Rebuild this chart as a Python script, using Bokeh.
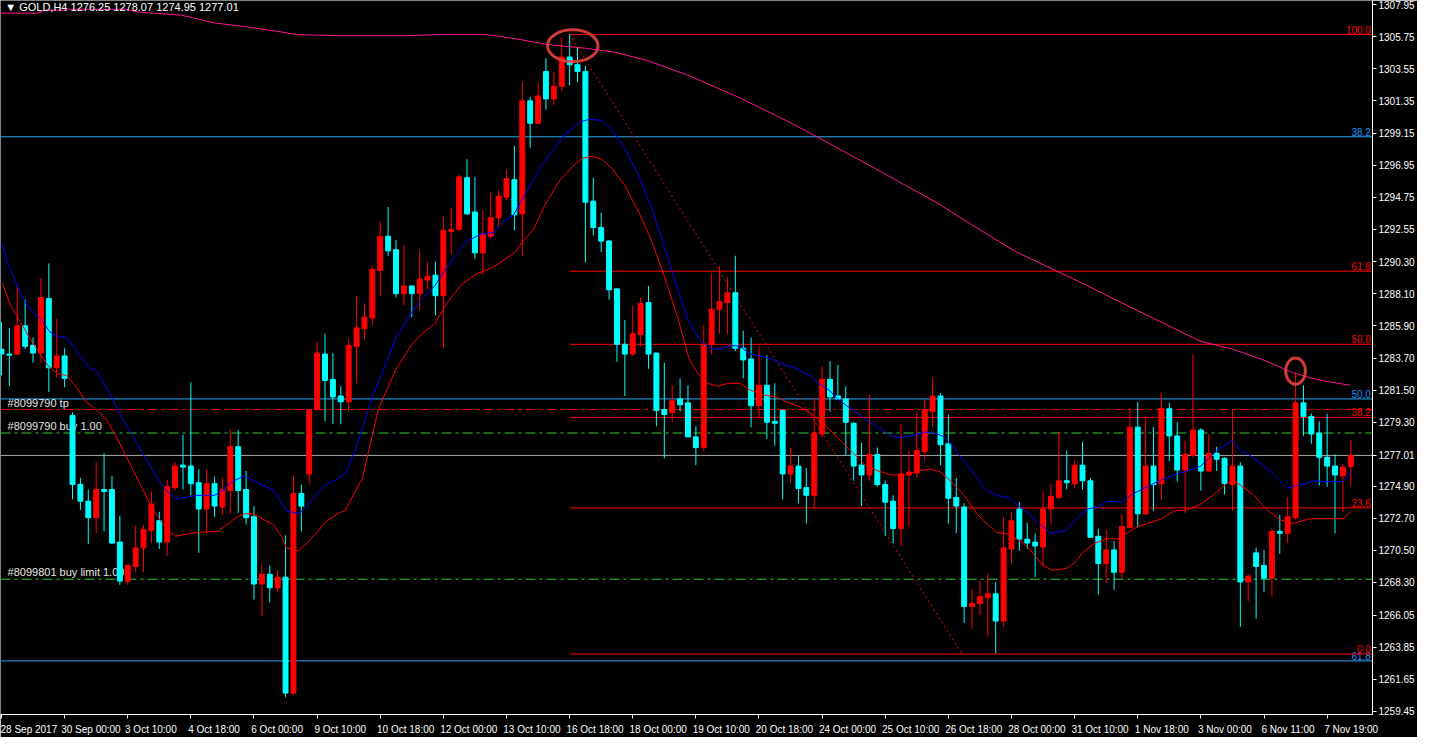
from bokeh.plotting import figure
from bokeh.models import (FixedTicker, NumeralTickFormatter, Label, ColumnDataSource, LinearAxis,
                          CustomLabelingPolicy)
from bokeh.embed import file_html
from bokeh.resources import INLINE
from bokeh.core.properties import value

# ---------------- data (GOLD, H4) ----------------
opens = [1284.30,1283.97,1283.97,1285.91,1284.57,1284.04,1287.78,1283.03,1283.84,1279.76,
         1275.01,1273.87,1272.73,1274.67,1274.67,1271.06,1268.38,1269.39,1270.66,1271.86,
         1272.53,1271.06,1274.80,1276.34,1276.28,1275.14,1273.33,1275.07,1273.47,1274.60,
         1277.61,1274.67,1272.80,1268.18,1268.85,1267.92,1268.65,1260.69,1274.40,1275.74,
         1280.16,1283.97,1282.23,1281.09,1280.69,1284.50,1285.71,1286.44,1289.72,1292.06,
         1291.13,1288.12,1288.65,1288.12,1289.05,1289.39,1287.98,1292.40,1292.53,1296.08,
         1293.73,1290.92,1292.06,1293.33,1294.74,1295.94,1293.60,1301.36,1299.82,1303.37,
         1301.49,1302.36,1304.37,1303.84,1303.37,1294.47,1292.66,1291.73,1288.45,1284.64,
         1283.97,1285.31,1287.51,1284.04,1280.16,1279.96,1280.89,1280.62,1278.28,1277.55,
         1284.64,1287.05,1287.51,1288.18,1284.37,1283.63,1280.42,1281.83,1279.35,1280.09,
         1275.74,1276.28,1274.80,1274.27,1278.48,1282.23,1281.09,1280.89,1279.22,1276.34,
         1275.67,1277.08,1275.01,1273.87,1271.99,1275.67,1275.81,1277.28,1280.02,1281.09,
         1277.81,1274.13,1273.47,1266.64,1266.84,1267.25,1267.51,1265.64,1270.59,1273.33,
         1271.26,1271.06,1270.72,1273.33,1274.13,1275.27,1275.07,1276.34,1275.27,1271.46,
         1269.59,1270.52,1268.99,1272.06,1278.95,1273.00,1276.28,1275.07,1280.22,1278.35,
         1276.01,1277.01,1278.75,1275.94,1277.15,1276.81,1275.01,1276.28,1268.32,1270.32,
         1269.45,1268.58,1271.79,1271.66,1272.73,1280.62,1279.69,1278.55,1276.88,1276.28,
         1275.61,1276.25]
highs = [1286.18,1285.77,1288.65,1287.71,1285.11,1289.19,1290.19,1286.38,1284.37,1279.96,
         1275.47,1274.67,1276.54,1277.15,1275.61,1272.87,1269.52,1272.20,1272.26,1274.54,
         1273.13,1275.34,1276.54,1278.42,1282.03,1276.08,1276.08,1275.54,1275.47,1278.82,
         1278.75,1275.94,1273.53,1269.52,1269.45,1269.12,1271.53,1275.61,1275.01,1280.20,
         1284.77,1285.37,1284.04,1281.76,1285.04,1287.98,1287.45,1289.99,1293.07,1294.07,
         1291.80,1291.46,1288.65,1291.13,1290.32,1290.32,1293.40,1294.00,1296.28,1297.35,
         1296.14,1293.80,1295.07,1295.21,1296.61,1298.28,1302.70,1301.63,1302.56,1304.30,
         1303.37,1305.71,1305.91,1305.04,1303.77,1296.08,1293.67,1291.80,1288.45,1286.31,
         1287.31,1287.85,1288.65,1284.04,1283.37,1281.83,1282.30,1281.83,1279.02,1285.98,
         1289.52,1289.99,1289.25,1290.72,1285.57,1285.11,1284.50,1283.90,1281.96,1280.16,
         1277.55,1276.95,1276.14,1280.96,1283.10,1283.50,1283.23,1281.76,1279.29,1277.88,
         1281.16,1277.55,1275.27,1274.27,1279.15,1277.35,1279.96,1280.82,1282.36,1281.29,
         1279.82,1275.47,1273.73,1267.85,1268.38,1268.85,1268.32,1272.80,1273.07,1273.80,
         1272.40,1271.66,1274.54,1275.07,1278.62,1277.35,1276.68,1277.95,1275.47,1271.99,
         1271.93,1271.12,1273.00,1280.29,1280.69,1279.69,1278.95,1281.29,1280.62,1279.29,
         1278.01,1283.97,1278.88,1278.48,1277.61,1276.88,1280.22,1276.54,1268.85,1270.66,
         1270.52,1272.06,1272.93,1274.13,1282.70,1281.83,1279.89,1279.35,1279.89,1277.08,
         1276.41,1278.07]
lows = [1282.50,1281.76,1283.90,1284.30,1283.37,1283.37,1281.36,1282.36,1281.69,1274.00,
        1273.27,1270.93,1271.66,1271.79,1270.93,1268.12,1268.12,1268.99,1268.99,1270.99,
        1270.59,1270.12,1274.60,1274.67,1274.27,1270.32,1271.73,1272.80,1272.93,1273.00,
        1273.07,1272.26,1267.11,1265.98,1266.91,1267.65,1260.42,1260.56,1271.79,1275.07,
        1280.16,1279.35,1279.15,1279.15,1280.02,1281.96,1284.97,1285.98,1287.98,1290.72,
        1287.85,1287.31,1286.51,1286.98,1288.38,1286.64,1284.37,1290.86,1292.40,1293.53,
        1290.52,1289.39,1291.86,1292.66,1294.54,1292.46,1290.66,1298.15,1299.76,1300.76,
        1301.09,1302.03,1302.43,1302.63,1290.26,1292.13,1290.99,1287.71,1283.43,1281.09,
        1283.84,1284.50,1282.96,1279.02,1276.81,1279.29,1280.02,1278.28,1276.34,1277.28,
        1283.97,1285.37,1285.31,1284.17,1282.30,1278.95,1279.62,1278.15,1277.68,1274.00,
        1275.14,1273.73,1272.33,1273.27,1278.28,1280.02,1280.85,1277.01,1275.27,1273.53,
        1275.27,1274.87,1271.46,1270.99,1270.79,1272.13,1275.47,1276.68,1278.95,1276.34,
        1272.33,1271.66,1265.51,1265.11,1266.04,1264.57,1263.43,1265.24,1269.59,1270.46,
        1270.59,1268.65,1269.39,1272.26,1274.00,1274.67,1274.74,1274.67,1271.33,1267.45,
        1268.25,1267.78,1268.58,1271.99,1272.06,1272.93,1273.20,1273.93,1276.61,1275.21,
        1273.07,1276.88,1274.60,1275.90,1275.94,1274.33,1273.20,1265.24,1266.98,1265.78,
        1267.65,1267.31,1270.26,1270.99,1272.60,1278.35,1277.81,1274.94,1274.87,1271.66,
        1273.13,1274.95]
closes = [1283.97,1283.90,1285.91,1284.50,1284.04,1287.85,1283.03,1283.84,1282.30,1275.01,
          1273.87,1272.73,1274.67,1274.54,1270.99,1268.38,1269.45,1270.66,1271.93,1273.67,
          1271.06,1274.87,1276.28,1276.21,1275.07,1273.33,1275.07,1273.53,1274.67,1277.61,
          1274.60,1272.73,1268.18,1268.85,1267.92,1268.65,1260.69,1274.40,1273.53,1280.16,
          1284.04,1282.16,1281.03,1280.69,1284.57,1285.77,1286.51,1289.79,1292.06,1291.06,
          1288.12,1288.65,1288.12,1289.12,1289.32,1287.98,1292.46,1292.53,1296.14,1293.60,
          1290.92,1292.20,1293.33,1294.80,1296.01,1293.53,1301.36,1299.82,1301.69,1301.49,
          1302.36,1304.37,1303.84,1303.37,1294.40,1292.66,1291.73,1288.38,1284.64,1283.97,
          1285.37,1287.45,1283.97,1280.09,1279.82,1280.76,1280.49,1278.28,1277.55,1284.64,
          1287.05,1287.58,1288.18,1284.37,1283.57,1280.42,1281.83,1279.29,1279.22,1275.74,
          1276.28,1274.74,1274.27,1278.55,1282.23,1281.03,1280.89,1279.29,1276.28,1275.67,
          1277.08,1275.01,1273.80,1271.99,1275.74,1275.87,1277.35,1280.16,1281.09,1277.75,
          1274.07,1273.53,1266.64,1266.84,1267.31,1267.51,1265.64,1270.66,1272.53,1271.26,
          1270.99,1270.79,1273.33,1274.20,1275.27,1275.14,1276.34,1275.27,1271.39,1269.59,
          1270.52,1268.99,1272.13,1278.95,1273.00,1276.28,1275.01,1280.22,1278.35,1276.01,
          1277.08,1278.75,1275.94,1277.15,1276.75,1275.07,1276.28,1268.32,1268.72,1269.39,
          1268.58,1271.79,1271.66,1272.80,1280.62,1279.69,1278.48,1276.88,1276.28,1275.67,
          1276.21,1277.01]

# moving averages (bar position, price)
ma_fast_bar = [0.1,0.9,2.0,3.0,4.0,5.1,6.1,7.1,8.25,9.25,10.25,11.1,12.0,12.75,14.0,15.25,16.5,17.75,19.0,
               20.25,21.1,22.1,23.25,24.9,27.0,28.25,29.0,30.75,31.5,33.25,34.5,35.25,36.1,37.75,38.6,
               39.9,41.1,42.4,43.6,44.9,47.0,49.0,50.1,52.0,53.25,54.9,56.5,57.75,59.0,60.75,62.4,63.6,
               64.9,66.5,68.25,69.9,71.5,73.25,74.5,76.1,77.75,79.0,80.75,82.4,84.0,85.75,87.1,88.6,
               89.9,91.1,92.4,93.6,94.9,97.4,98.6,100.75,102.4,103.6,104.9,106.1,107.75,109.5,111.1,
               112.75,114.0,115.25,117.0,118.25,119.5,120.75,122.0,123.6,124.9,126.1,127.75,128.6,
               130.25,131.5,133.0,134.9,136.1,137.6,139.0,140.1,142.0,143.25,144.5,145.75,147.0,148.6,
               150.25,152.0,153.6,155.25,156.0,157.0,158.25,159.5,160.75,162.0,163.0,164.0,165.25,
               166.1,167.75,169.9,170.25,171.0]
ma_fast = [1291.53,1290.06,1288.65,1287.51,1286.85,1286.31,1285.51,1285.17,1285.11,1284.37,1283.63,1283.03,
           1282.83,1282.16,1280.96,1279.62,1278.48,1277.28,1276.14,1275.01,1274.47,1274.00,1274.13,1274.27,
           1274.27,1274.67,1275.14,1275.61,1275.41,1274.94,1274.60,1273.93,1273.20,1273.00,1273.47,1274.33,
           1275.01,1275.34,1275.81,1277.48,1281.03,1283.70,1285.17,1286.85,1287.71,1288.65,1289.99,1290.86,
           1291.73,1292.20,1292.33,1293.07,1293.53,1295.07,1296.74,1298.02,1299.09,1299.89,1300.09,1300.02,
           1299.09,1298.08,1296.21,1294.00,1291.33,1288.38,1286.18,1284.84,1284.37,1284.30,1284.57,1284.50,
           1283.97,1283.70,1283.37,1282.96,1282.50,1281.96,1281.49,1280.82,1280.16,1279.49,1278.95,1278.35,
           1278.22,1278.35,1278.62,1278.55,1278.28,1277.48,1276.61,1275.47,1274.60,1274.27,1274.07,1273.67,
           1273.00,1272.33,1271.66,1271.86,1272.60,1273.33,1273.47,1273.87,1273.80,1274.33,1274.67,1275.01,
           1275.34,1275.67,1275.94,1276.28,1277.15,1277.81,1278.01,1277.35,1277.01,1276.48,1275.94,1275.27,
           1274.74,1274.94,1275.07,1275.27,1275.21,1275.21,1275.34,1275.81]

ma_slow_bar = [0.1,1.1,2.4,3.6,4.9,5.9,7.1,8.25,9.5,10.75,12.0,13.25,14.5,15.75,17.0,18.25,19.0,20.25,21.1,
               22.1,23.25,24.9,27.4,28.25,29.5,30.75,32.0,33.25,34.5,35.5,36.1,37.6,38.6,39.9,41.1,42.4,
               43.6,45.75,47.75,49.9,52.0,53.6,54.9,56.5,58.25,59.9,62.0,63.6,65.1,66.1,67.4,69.0,70.75,
               72.4,73.6,74.9,76.1,77.4,79.0,80.75,82.4,84.0,85.75,87.1,88.25,89.5,90.75,92.0,93.6,94.9,
               96.5,98.25,99.5,101.1,102.75,104.5,106.1,107.75,109.5,111.1,112.75,114.5,116.1,117.75,
               119.0,120.25,122.0,123.6,125.25,126.1,127.75,129.5,130.25,132.0,133.25,134.9,135.9,137.0,
               138.6,140.25,141.5,142.6,144.0,145.25,147.0,148.6,150.25,152.0,153.6,155.25,156.1,157.4,
               158.6,160.25,162.0,163.6,165.75,167.75,170.1,171.0]
ma_slow = [1288.85,1287.38,1286.18,1285.04,1283.97,1283.17,1282.63,1282.50,1281.69,1280.69,1280.16,1279.49,
           1278.35,1277.01,1275.67,1274.33,1273.47,1272.46,1271.86,1271.46,1271.59,1271.73,1271.79,1272.13,
           1272.66,1273.00,1273.00,1272.60,1272.26,1271.46,1270.66,1270.46,1270.93,1271.66,1272.46,1272.93,
           1273.27,1275.47,1280.16,1282.83,1284.64,1285.51,1286.04,1287.51,1288.72,1289.39,1289.86,1290.39,
           1290.99,1291.73,1292.53,1294.34,1295.88,1296.88,1297.41,1297.55,1297.35,1296.68,1295.54,1293.73,
           1291.73,1289.32,1286.38,1283.70,1282.63,1281.96,1281.76,1281.96,1281.96,1281.49,1281.16,1281.03,
           1280.69,1280.36,1279.82,1279.02,1278.15,1277.28,1276.34,1275.94,1275.67,1275.67,1275.94,1276.08,
           1275.87,1275.27,1274.27,1273.00,1272.13,1271.73,1271.59,1270.99,1270.59,1269.45,1269.12,1269.25,
           1269.59,1270.32,1270.99,1271.33,1271.26,1271.66,1272.13,1272.33,1272.66,1273.20,1273.27,1273.67,
           1274.33,1275.07,1275.34,1274.80,1274.33,1273.33,1272.60,1272.33,1272.66,1272.66,1272.66,1273.20]

ma_long_bar = [-0.1,4.5,5.5,8.25,8.6,15.75,17.4,22.75,27.0,31.1,35.25,37.4,42.4,51.5,55.75,61.5,65.75,69.0,
               74.0,77.75,82.0,87.1,93.6,99.9,106.1,112.4,118.6,124.9,128.6,137.4,144.9,152.0,156.1,
               160.25,163.6,166.1,168.6,170.9]
ma_long = [1307.38,1307.38,1307.58,1307.58,1307.65,1307.65,1307.45,1307.25,1306.71,1306.44,1306.11,1305.91,
           1305.84,1305.84,1305.91,1305.91,1305.57,1305.24,1304.97,1304.70,1304.10,1303.10,1301.56,1299.89,
           1298.08,1296.21,1294.34,1292.20,1290.99,1288.72,1286.71,1284.84,1284.30,1283.50,1282.70,1282.30,
           1282.03,1281.83]

date_labels = ["28 Sep 2017", "30 Sep 00:00", "3 Oct 10:00", "4 Oct 18:00", "6 Oct 00:00",
               "9 Oct 10:00", "10 Oct 18:00", "12 Oct 00:00", "13 Oct 10:00", "16 Oct 18:00",
               "18 Oct 00:00", "19 Oct 10:00", "20 Oct 18:00", "24 Oct 00:00", "25 Oct 10:00",
               "26 Oct 18:00", "28 Oct 00:00", "31 Oct 10:00", "1 Nov 18:00", "3 Nov 00:00",
               "6 Nov 11:00", "7 Nov 19:00"]
price_ticks = [1307.95, 1305.75, 1303.55, 1301.35, 1299.15, 1296.95, 1294.75, 1292.55, 1290.30,
               1288.10, 1285.90, 1283.70, 1281.50, 1279.30, 1274.90, 1272.70, 1270.50, 1268.30,
               1266.05, 1263.85, 1261.65, 1259.45]

# Fibonacci retracement (red) from the swing high to the swing low
fib_start_bar = 72
fib_end_bar = 121.75
fib_high = 1305.91
fib_low = 1263.37
fib_levels = [0.0, 23.6, 38.2, 50.0, 61.8, 100.0]

# second Fibonacci (blue) levels
blue_fib_names = ["38.2", "50.0", "61.8"]
blue_fib_prices = [1298.89, 1280.89, 1262.90]

# pending / open orders
order_names = ["#8099790 tp", "#8099790 buy 1.00", "#8099801 buy limit 1.00"]
order_prices = [1280.16, 1278.55, 1268.51]
order_colors = ["#FF0000", "#32CD32", "#32CD32"]

last_price = 1277.01
title_text = "\u25BC GOLD,H4  1276.25 1278.07 1274.95 1277.01"
highlight_bars = [72, 164]

# ---------------- figure ----------------
FONT = "'Liberation Sans Narrow', 'Liberation Sans', sans-serif"
FONT_PX = 10
X0, X1 = -0.125, 173.75
Y0, Y1 = 1259.22, 1308.25
W, H = 1417, 737
RIGHT, BOTTOM = 42, 18
px_per_bar = (W - RIGHT) / (X1 - X0)

# approximate advance widths (em) of Liberation Sans Narrow
_cw = {" ": 0.228, ":": 0.228, "S": 0.547, "e": 0.456, "p": 0.456, "O": 0.638, "c": 0.41,
       "t": 0.228, "N": 0.592, "o": 0.456, "v": 0.41}
def text_px(s):
    return sum(_cw.get(ch, 0.456) for ch in s) * FONT_PX

p = figure(width=W, height=H, x_range=(X0, X1), y_range=(Y0, Y1),
           output_backend="svg", toolbar_location=None, y_axis_location="right",
           background_fill_color="black", border_fill_color="black",
           min_border_left=0, min_border_top=0, min_border_right=RIGHT, min_border_bottom=BOTTOM)
p.outline_line_color = None
p.grid.visible = False

# bottom axis: line + tick marks only (its own labels are suppressed)
xa = p.xaxis[0]
xa.ticker = FixedTicker(ticks=[8 * i for i in range(len(date_labels))])
xa.major_label_policy = CustomLabelingPolicy(code="return new Set()")
xa.major_label_text_font_size = "1px"
xa.major_label_standoff = 0
xa.axis_line_color = "white"
xa.major_tick_line_color = "white"
xa.minor_tick_line_color = None
xa.major_tick_in = 0
xa.major_tick_out = 4

# bottom axis: labels starting at their tick (centres shifted by half a label width)
label_pos = [8 * i + (text_px(d) / 2 + 2) / px_per_bar for i, d in enumerate(date_labels)]
xl = LinearAxis(ticker=FixedTicker(ticks=label_pos),
                major_label_overrides={pos: d for pos, d in zip(label_pos, date_labels)},
                axis_line_color=None, major_tick_line_color=None, minor_tick_line_color=None,
                major_tick_in=0, major_tick_out=0, minor_tick_in=0, minor_tick_out=0,
                major_label_standoff=1, major_label_text_color="white",
                major_label_text_font=FONT, major_label_text_font_size="%dpx" % FONT_PX)
p.add_layout(xl, "below")

# right price axis
ya = p.yaxis[0]
ya.ticker = FixedTicker(ticks=price_ticks + [last_price])
ya.formatter = NumeralTickFormatter(format="0.00")
ya.axis_line_color = "white"
ya.major_tick_line_color = "white"
ya.minor_tick_line_color = None
ya.major_tick_in = 0
ya.major_tick_out = 4
ya.major_label_text_color = "white"
ya.major_label_text_font = FONT
ya.major_label_text_font_size = "%dpx" % FONT_PX
ya.major_label_standoff = 2

# blue fib lines (full width)
p.segment(x0=[X0] * 3, x1=[X1] * 3, y0=blue_fib_prices, y1=blue_fib_prices,
          line_color="#29A8F0", line_width=1)
p.text(x=[X1 - 0.2] * 3, y=blue_fib_prices, text=blue_fib_names, text_align="right",
       text_baseline="bottom", text_color="#1E90FF", text_font=value(FONT),
       text_font_size="10px", y_offset=-1)

# red fib lines
fib_prices = [fib_low + lv / 100.0 * (fib_high - fib_low) for lv in fib_levels]
fib_names = ["%.1f" % lv for lv in fib_levels]
p.segment(x0=[fib_start_bar] * len(fib_prices), x1=[X1] * len(fib_prices), y0=fib_prices,
          y1=fib_prices, line_color="#FF0000", line_width=1)
p.text(x=[X1 - 0.2] * len(fib_prices), y=fib_prices, text=fib_names, text_align="right",
       text_baseline="bottom", text_color="#FF0000", text_font=value(FONT),
       text_font_size="10px", y_offset=-1)
p.line(x=[fib_start_bar, fib_end_bar], y=[fib_high, fib_low], line_color="#FF0000",
       line_width=1, line_dash="2 3")

# order lines
for nm, pr, col in zip(order_names, order_prices, order_colors):
    p.line(x=[X0, X1], y=[pr, pr], line_color=col, line_width=1, line_dash="10 4 3 4")
p.text(x=[X0 + 0.9] * 3, y=order_prices, text=order_names, text_align="left",
       text_baseline="bottom", text_color="#E6E6E6", text_font=value(FONT),
       text_font_size="11px", y_offset=-1)

# current price line
p.line(x=[X0, X1], y=[last_price, last_price], line_color="#A8A8A8", line_width=1)

# candles
bars = list(range(len(opens)))
colors = ["#FF0000" if c >= o else "#00FFFF" for o, c in zip(opens, closes)]
src = ColumnDataSource(dict(x=bars, o=opens, h=highs, l=lows, c=closes, col=colors,
                            top=[max(o, c) for o, c in zip(opens, closes)],
                            bot=[min(o, c) for o, c in zip(opens, closes)]))
p.segment(x0="x", x1="x", y0="l", y1="h", line_color="col", line_width=1, source=src)
p.vbar(x="x", top="top", bottom="bot", width=0.625, fill_color="col", line_color="col",
       line_width=1, source=src)

# moving averages
p.line(ma_long_bar, ma_long, line_color="#FF1493", line_width=1)
p.line(ma_slow_bar, ma_slow, line_color="#FF0000", line_width=1)
p.line(ma_fast_bar, ma_fast, line_color="#0000FF", line_width=1)

# highlight ellipses
p.ellipse(x=[highlight_bars[0] + 0.4, highlight_bars[1]],
          y=[highs[highlight_bars[0]] - 0.77, highs[highlight_bars[1]] + 0.1],
          width=[6.4, 2.5], height=[2.2, 1.8], fill_alpha=0,
          line_color="#E8413C", line_alpha=0.9, line_width=3)

# title
p.add_layout(Label(x=X0 + 0.6, y=Y1 - 0.45, text=title_text, text_color="white",
                   text_font=FONT, text_font_size="11px", text_baseline="middle"))

open("out.html", "w").write(file_html(p, INLINE))
